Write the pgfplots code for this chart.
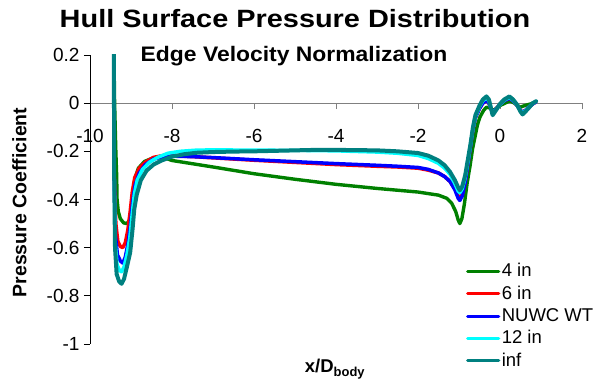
\documentclass[border=0pt]{standalone}
\usepackage{fontspec}
\setmainfont{Liberation Sans}
\usepackage{pgfplots}
\pgfplotsset{compat=1.18}
\definecolor{cgreen}{RGB}{0,128,0}
\definecolor{cred}{RGB}{255,0,0}
\definecolor{cblue}{RGB}{0,0,255}
\definecolor{ccyan}{RGB}{0,255,255}
\definecolor{cteal}{RGB}{0,128,128}
\definecolor{axgray}{RGB}{128,128,128}
\begin{document}
\begin{tikzpicture}
\useasboundingbox (0pt,0pt) rectangle (596pt,379pt);
\begin{axis}[
  at={(90pt,35pt)}, anchor=south west,
  scale only axis, width=492pt, height=289pt,
  xmin=-10, xmax=2, ymin=-1, ymax=0.2,
  axis x line=middle, axis y line=left,
  axis line style={-},
  x axis line style={draw=axgray, line width=0.8pt},
  y axis line style={draw=black, line width=0.8pt},
  hide obscured x ticks=false, hide obscured y ticks=false,
  xtick={-10,-8,-6,-4,-2,0,2},
  ytick={-1,-0.8,-0.6,-0.4,-0.2,0,0.2},
  tick align=outside, major tick length=6pt,
  x tick style={draw=axgray, line width=0.8pt},
  y tick style={draw=black, line width=0.8pt},
  /pgf/number format/assume math mode=true,
  tick label style={font=\fontsize{19}{22}\selectfont},
  xticklabel style={anchor=north},
  xticklabel shift=17pt,
  yticklabel style={xshift=-1pt},
  clip=true,
  legend style={draw=none, fill=none, at={(rel axis cs:0.764,0.29)}, anchor=north west,
    font=\fontsize{18.5}{22}\selectfont, row sep=0pt, inner sep=0pt,
    nodes={inner sep=1.5pt, text height=15pt, text depth=4.3pt}},
  legend cell align=left,
  legend image code/.code={\draw[#1, line width=3.2pt] (0pt,0pt) -- (31pt,0pt);},
  every axis plot/.append style={line join=round, line cap=round},
]
% 4 in
\addplot[cgreen, line width=3.4pt] coordinates {
(-9.42,0.25) (-9.40,0.0) (-9.37,-0.2) (-9.35,-0.3) (-9.34,-0.4) (-9.31,-0.45) (-9.26,-0.48)
(-9.18,-0.497) (-9.10,-0.50) (-9.03,-0.485) (-8.99,-0.44) (-8.95,-0.37) (-8.90,-0.31)
(-8.82,-0.27) (-8.67,-0.242) (-8.47,-0.228) (-8.30,-0.225) (-8.12,-0.231) (-8.0,-0.238)
(-7,-0.265) (-6,-0.293) (-5,-0.316) (-4,-0.337) (-3,-0.354) (-2,-0.369) (-1.5,-0.382)
(-1.3,-0.395) (-1.18,-0.415) (-1.08,-0.45) (-1.02,-0.485) (-0.98,-0.50) (-0.93,-0.48)
(-0.87,-0.42) (-0.80,-0.33) (-0.73,-0.26) (-0.67,-0.19) (-0.61,-0.14) (-0.55,-0.09)
(-0.49,-0.058) (-0.40,-0.03) (-0.33,-0.017) (-0.25,-0.02) (-0.16,-0.03) (0,-0.01)
(0.24,0.01) (0.35,0.0) (0.49,-0.017) (0.60,-0.01) (0.75,-0.003) (0.86,0.005)
};
\addlegendentry{4 in}
% 6 in
\addplot[cred, line width=3.5pt] coordinates {
(-9.42,0.25) (-9.41,-0.3) (-9.37,-0.5) (-9.32,-0.575) (-9.26,-0.595) (-9.20,-0.60)
(-9.14,-0.58) (-9.08,-0.53) (-9.02,-0.45) (-8.97,-0.37) (-8.91,-0.31) (-8.80,-0.27)
(-8.65,-0.245) (-8.45,-0.225) (-8.2,-0.217) (-8,-0.218) (-7.5,-0.222) (-7,-0.227)
(-6,-0.237) (-5,-0.246) (-4,-0.255) (-3,-0.262) (-2.5,-0.265) (-2,-0.27) (-1.75,-0.278)
(-1.5,-0.29) (-1.35,-0.305) (-1.22,-0.325) (-1.1,-0.355) (-1.02,-0.385) (-0.98,-0.393)
(-0.92,-0.38) (-0.85,-0.33) (-0.78,-0.25) (-0.72,-0.18) (-0.66,-0.11) (-0.6,-0.06)
(-0.5,-0.022) (-0.42,0.0) (-0.33,0.012) (-0.27,0.0) (-0.18,-0.04) (-0.1,-0.025)
(0,-0.005) (0.1,0.01) (0.23,0.02) (0.32,0.01) (0.41,-0.008) (0.5,-0.03) (0.55,-0.038)
(0.62,-0.03) (0.7,-0.017) (0.8,-0.003) (0.88,0.005)
};
\addlegendentry{6 in}
% NUWC WT
\addplot[cblue, line width=3.5pt] coordinates {
(-9.42,0.25) (-9.41,-0.3) (-9.38,-0.55) (-9.33,-0.63) (-9.26,-0.655) (-9.20,-0.664)
(-9.14,-0.64) (-9.07,-0.58) (-9.01,-0.5) (-8.96,-0.41) (-8.90,-0.34) (-8.80,-0.29)
(-8.65,-0.255) (-8.45,-0.232) (-8.2,-0.222) (-8,-0.22) (-7.5,-0.222) (-7,-0.226)
(-6,-0.235) (-5,-0.243) (-4,-0.251) (-3,-0.258) (-2.5,-0.262) (-2,-0.267) (-1.75,-0.275)
(-1.5,-0.29) (-1.35,-0.305) (-1.22,-0.325) (-1.1,-0.36) (-1.02,-0.395) (-0.98,-0.404)
(-0.92,-0.385) (-0.85,-0.33) (-0.78,-0.25) (-0.72,-0.18) (-0.66,-0.11) (-0.6,-0.06)
(-0.5,-0.022) (-0.42,0.0) (-0.33,0.012) (-0.27,0.0) (-0.18,-0.04) (-0.1,-0.025)
(0,-0.005) (0.1,0.01) (0.23,0.02) (0.32,0.01) (0.41,-0.008) (0.5,-0.03) (0.55,-0.038)
(0.62,-0.03) (0.7,-0.017) (0.8,-0.003) (0.88,0.005)
};
\addlegendentry{NUWC WT}
% 12 in
\addplot[ccyan, line width=3.5pt] coordinates {
(-9.42,0.25) (-9.41,-0.3) (-9.385,-0.58) (-9.34,-0.67) (-9.28,-0.695) (-9.23,-0.70)
(-9.17,-0.68) (-9.10,-0.63) (-9.03,-0.56) (-8.97,-0.46) (-8.92,-0.38) (-8.85,-0.32)
(-8.72,-0.275) (-8.55,-0.245) (-8.35,-0.225) (-8.1,-0.208) (-7.8,-0.2) (-7.4,-0.195)
(-7,-0.194) (-6,-0.195) (-5,-0.196) (-4,-0.198) (-3,-0.203) (-2.5,-0.208) (-2,-0.217)
(-1.75,-0.23) (-1.5,-0.25) (-1.35,-0.27) (-1.22,-0.295) (-1.1,-0.335) (-1.02,-0.365)
(-0.98,-0.372) (-0.92,-0.355) (-0.85,-0.31) (-0.78,-0.24) (-0.72,-0.175) (-0.66,-0.105)
(-0.6,-0.055) (-0.5,-0.015) (-0.42,0.01) (-0.33,0.022) (-0.27,0.01) (-0.18,-0.045)
(-0.1,-0.028) (0,-0.005) (0.1,0.012) (0.23,0.024) (0.32,0.012) (0.41,-0.006) (0.5,-0.033)
(0.55,-0.043) (0.62,-0.032) (0.7,-0.018) (0.8,0.0) (0.88,0.007)
};
\addlegendentry{12 in}
% inf
\addplot[cteal, line width=4pt] coordinates {
(-9.42,0.25) (-9.415,0.0) (-9.41,-0.3) (-9.39,-0.6) (-9.35,-0.71) (-9.29,-0.74)
(-9.23,-0.75) (-9.17,-0.73) (-9.10,-0.68) (-9.02,-0.62) (-8.96,-0.52) (-8.92,-0.44)
(-8.86,-0.38) (-8.76,-0.32) (-8.62,-0.28) (-8.45,-0.255) (-8.25,-0.238) (-8.0,-0.222)
(-7.7,-0.212) (-7.4,-0.206) (-7,-0.203) (-6.5,-0.201) (-6,-0.2) (-5.5,-0.198) (-5,-0.196)
(-4.5,-0.194) (-4,-0.194) (-3.5,-0.195) (-3,-0.196) (-2.5,-0.2) (-2.0,-0.207)
(-1.75,-0.218) (-1.5,-0.238) (-1.35,-0.258) (-1.22,-0.285) (-1.1,-0.32) (-1.02,-0.35)
(-0.98,-0.362) (-0.92,-0.345) (-0.85,-0.3) (-0.78,-0.23) (-0.72,-0.17) (-0.66,-0.1)
(-0.6,-0.05) (-0.5,-0.01) (-0.42,0.015) (-0.33,0.028) (-0.27,0.015) (-0.18,-0.05)
(-0.1,-0.03) (0,-0.003) (0.1,0.015) (0.23,0.028) (0.32,0.015) (0.41,-0.005) (0.5,-0.035)
(0.55,-0.047) (0.62,-0.035) (0.7,-0.02) (0.8,0.0) (0.88,0.008)
};
\addlegendentry{inf}
\end{axis}
\node[anchor=base, xscale=1.156, font=\bfseries\fontsize{25}{30}\selectfont] at (295pt,351.7pt) {Hull Surface Pressure Distribution};
\node[anchor=base, xscale=1.09, font=\bfseries\fontsize{21}{25}\selectfont] at (294pt,317.3pt) {Edge Velocity Normalization};
\node[rotate=90, font=\bfseries\fontsize{19.5}{23}\selectfont] at (19.5pt,176.5pt) {Pressure Coefficient};
\node[anchor=base, font=\bfseries\fontsize{18.5}{22}\selectfont] at (335pt,6pt) {x/D\textsubscript{body}};
\end{tikzpicture}
\end{document}
